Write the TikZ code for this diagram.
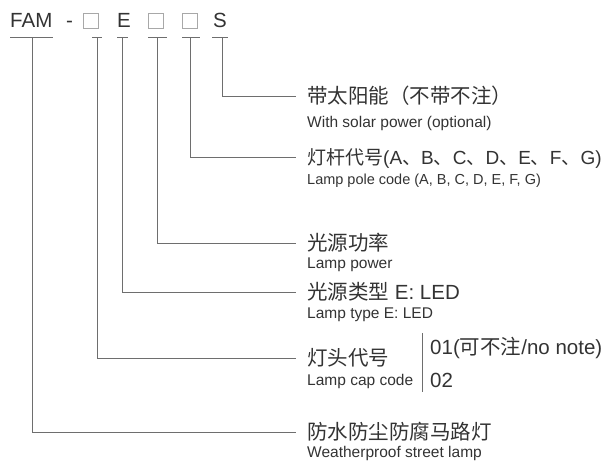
\documentclass[tikz,border=0pt]{standalone}
\usepackage{fontspec}
\setmainfont{Liberation Sans}
\newfontfamily\cjk{Noto Sans CJK SC}
\usetikzlibrary{positioning}
\definecolor{txtgray}{HTML}{333333}
\definecolor{linegray}{HTML}{6E6E6E}
\definecolor{slotgray}{HTML}{A8A8A8}
\newcommand{\zh}[1]{{\cjk #1}}

\tikzset{
  code/.style={inner sep=0pt, anchor=base west, text=txtgray,
    font=\fontsize{20.5}{24}\selectfont},
  slot/.style={draw=slotgray, line width=0.7pt, minimum size=15pt, inner sep=0pt},
  title/.style={inner sep=0pt, anchor=west, text=txtgray, text height=15.5pt,
    text depth=0pt, font=\fontsize{20.5}{24}\selectfont},
  sub/.style={inner sep=0pt, anchor=west, text=txtgray, text height=11pt,
    text depth=0pt, font=\fontsize{15.5}{18}\selectfont},
  lead/.style={draw=linegray, line width=0.9pt},
}

\begin{document}
\begin{tikzpicture}[x=1pt,y=-1pt]
  \useasboundingbox (0,0) rectangle (612,461);
  % code row
  \node[code] (fam) at (10,27.5) {FAM};
  \node[code] (dash) at (66,27.5) {-};
  \node[slot] (b1) at (90.5,21) {};
  \node[code] (e) at (117,27.5) {E};
  \node[slot] (b2) at (155.5,21) {};
  \node[slot] (b3) at (189.5,21) {};
  \node[code] (s) at (213,27.5) {S};

  % descriptions
  \node[title] (solar) at (307,96) {\zh{带太阳能（不带不注）}};
  \node[sub] (solar-en) at (307,122) {With solar power (optional)};
  \node[title, font=\fontsize{19}{22}\selectfont] (pole) at (307,157)
    {\zh{灯杆代号}(A\zh{、}B\zh{、}C\zh{、}D\zh{、}E\zh{、}F\zh{、}G)};
  \node[sub, font=\fontsize{14.5}{17}\selectfont] (pole-en) at (307,179)
    {Lamp pole code (A, B, C, D, E, F, G)};
  \node[title] (power) at (307,243) {\zh{光源功率}};
  \node[sub] (power-en) at (307,263) {Lamp power};
  \node[title] (type) at (307,292) {\zh{光源类型}\ E: LED};
  \node[sub] (type-en) at (307,313) {Lamp type E: LED};
  \node[title] (cap) at (307,358) {\zh{灯头代号}};
  \node[sub] (cap-en) at (307,380) {Lamp cap code};
  \node[title] (cap01) at (430,347) {01(\zh{可不注}/no note)};
  \node[title] (cap02) at (430,380) {02};
  \node[title] (road) at (307,432) {\zh{防水防尘防腐马路灯}};
  \node[sub] (road-en) at (307,452) {Weatherproof street lamp};

  % underlines and leaders
  \foreach \xa/\xb/\xv/\tgt in {10/53/32/road, 92/102/97/cap, 117/128/122/type,
      148/167/157/power, 182/200/190/pole, 212/228/222/solar} {
    \draw[lead] (\xa,37) -- (\xb,37);
    \draw[lead] (\xv,37) |- ([xshift=-11pt]\tgt.west);
  }
  \draw[lead] (422,333) -- (422,392);
\end{tikzpicture}
\end{document}
